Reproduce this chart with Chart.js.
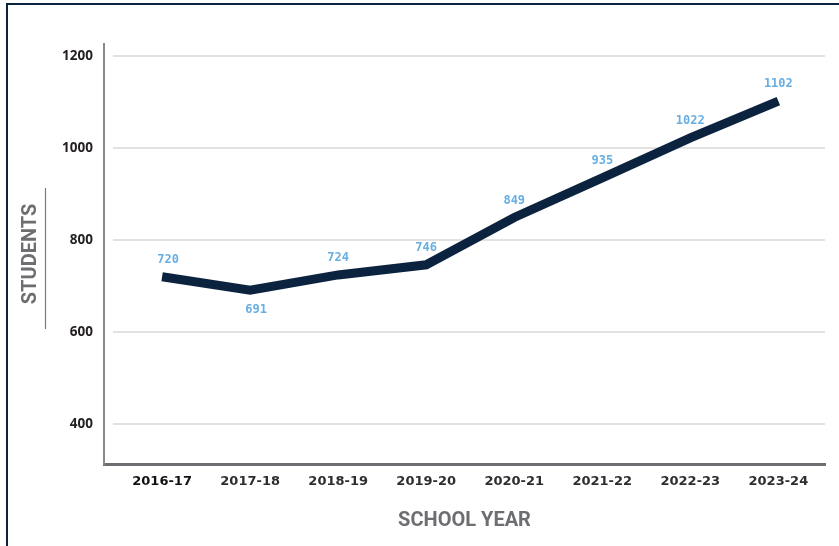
<!DOCTYPE html>
<html>
<head>
<meta charset="utf-8">
<script src="https://cdn.jsdelivr.net/npm/chart.js@4.4.1/dist/chart.umd.min.js"></script>
<style>
  html, body { margin: 0; padding: 0; background: #fff; }
  body { width: 839px; height: 546px; position: relative; overflow: hidden; }
  .frame { position: absolute; left: 6px; top: 3px; width: 900px; height: 600px; border: 2px solid #0c2340; }
  .wrap { position: absolute; left: 0; top: 0; width: 839px; height: 546px; }
</style>
</head>
<body>
<div class="frame"></div>
<div class="wrap"><canvas id="chart"></canvas></div>
<script>
// Enrollment by school year
const schoolYears = ['2016-17', '2017-18', '2018-19', '2019-20', '2020-21', '2021-22', '2022-23', '2023-24'];
const students = [720, 691, 724, 746, 849, 935, 1022, 1102];
const yTicks = [400, 600, 800, 1000, 1200];

const NAVY = '#0c2340';
const LABEL_BLUE = '#67aee2';
const TITLE_GRAY = '#6d6e71';

// Gridlines start a little right of the y axis, so draw them by hand
const gridPlugin = {
    id: 'gridLines',
    beforeDatasetsDraw(chart) {
        const { ctx, chartArea, scales } = chart;
        ctx.save();
        ctx.strokeStyle = '#d9d9d9';
        ctx.lineWidth = 1.5;
        yTicks.forEach(v => {
            const y = scales.y.getPixelForValue(v);
            ctx.beginPath();
            ctx.moveTo(chartArea.left + 9, y);
            ctx.lineTo(chartArea.right, y);
            ctx.stroke();
        });
        // short rule beside the y title
        ctx.strokeStyle = '#7a7a7a';
        ctx.lineWidth = 1.2;
        ctx.beginPath();
        ctx.moveTo(45.5, 188);
        ctx.lineTo(45.5, 329);
        ctx.stroke();
        ctx.restore();
    }
};

// Value labels over each point (the dip is labelled below)
const valueLabels = {
    id: 'valueLabels',
    afterDatasetsDraw(chart) {
        const { ctx } = chart;
        const meta = chart.getDatasetMeta(0);
        ctx.save();
        ctx.font = 'bold 12px "DejaVu Sans Mono", monospace';
        ctx.fillStyle = LABEL_BLUE;
        ctx.textAlign = 'center';
        ctx.textBaseline = 'middle';
        meta.data.forEach((pt, i) => {
            const below = i > 0 && i < students.length - 1 &&
                students[i] < students[i - 1] && students[i] < students[i + 1];
            ctx.fillText(String(students[i]), pt.x + (i < 2 ? 6 : 0), below ? pt.y + 20 : pt.y - 17);
        });
        ctx.restore();
    }
};

Chart.defaults.font.family = '"Open Sans", sans-serif';

new Chart(document.getElementById('chart'), {
    type: 'line',
    data: {
        datasets: [{
            data: students.map((v, i) => ({ x: i, y: v })),
            borderColor: NAVY,
            borderWidth: 9,
            borderCapStyle: 'butt',
            borderJoinStyle: 'miter',
            tension: 0,
            pointRadius: 0,
            fill: false
        }]
    },
    options: {
        responsive: true,
        maintainAspectRatio: false,
        animation: false,
        layout: { padding: { top: 44, right: 14, left: 0, bottom: 0 } },
        plugins: {
            legend: { display: false },
            tooltip: { enabled: false }
        },
        scales: {
            x: {
                type: 'linear',
                min: -0.66,
                max: 7.53,
                afterBuildTicks: scale => {
                    scale.ticks = schoolYears.map((_, i) => ({ value: i }));
                },
                afterFit: scale => { scale.height = 82; },
                grid: { display: false, drawTicks: false },
                border: { display: true, color: '#6d6e71', width: 3 },
                ticks: {
                    padding: 10,
                    maxRotation: 0,
                    autoSkip: false,
                    color: ctx => ctx.index === 0 ? '#111111' : '#2e2e2e',
                    font: { family: '"DejaVu Sans", sans-serif', size: 13, weight: 'bold' },
                    callback: v => schoolYears[v]
                },
                title: {
                    display: true,
                    text: 'SCHOOL YEAR',
                    color: TITLE_GRAY,
                    font: { family: 'Roboto, sans-serif', size: 20, weight: 'bold' },
                    padding: { top: 0, bottom: 13 }
                }
            },
            y: {
                min: 313,
                max: 1226,
                afterBuildTicks: scale => {
                    scale.ticks = yTicks.map(v => ({ value: v }));
                },
                afterFit: scale => { scale.width = 104; },
                grid: { display: false, drawTicks: false },
                border: { display: true, color: '#8a8a8a', width: 2 },
                ticks: {
                    padding: 11,
                    color: '#231f20',
                    font: { size: 13.5, weight: 'bold' },
                    callback: v => String(v)
                },
                title: {
                    display: true,
                    text: 'STUDENTS',
                    color: TITLE_GRAY,
                    font: { family: 'Roboto, sans-serif', size: 20, weight: 'bold' },
                    padding: { top: 19, bottom: 0 }
                }
            }
        }
    },
    plugins: [gridPlugin, valueLabels]
});
</script>
</body>
</html>
